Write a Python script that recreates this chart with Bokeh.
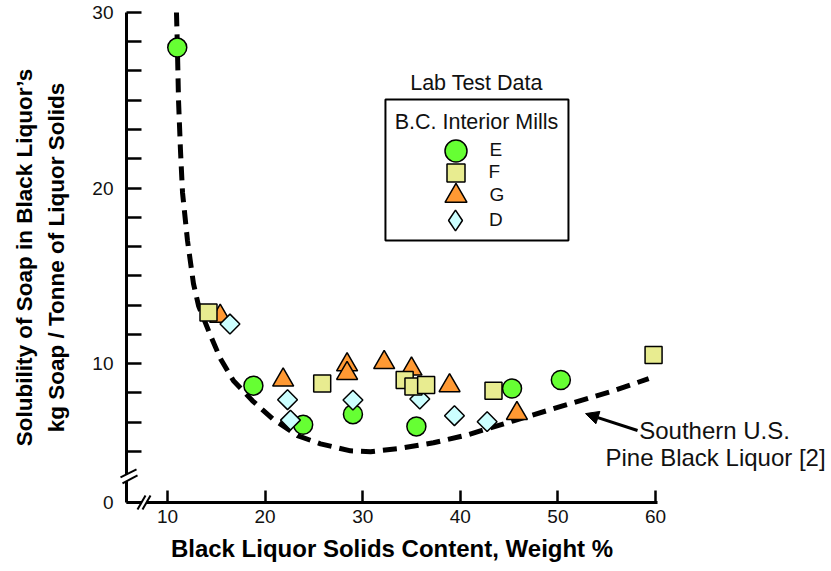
import numpy as np
from bokeh.plotting import figure
from bokeh.models import (Range1d, FixedTicker, CustomJSTickFormatter, Legend, LegendItem,
                          BoxAnnotation, Label, Arrow, NormalHead, PolyAnnotation)
from bokeh.embed import file_html
from bokeh.resources import INLINE

FONT = "Liberation Sans"

# Lab test data, B.C. interior mills: solids content (wt %) vs soap solubility (kg/t solids)
mill_e_solids = [11.0, 18.8, 23.9, 29.0, 35.5, 45.3, 50.3]
mill_e_soap = [28.0, 8.75, 6.52, 7.13, 6.43, 8.59, 9.07]

mill_f_solids = [14.2, 25.85, 34.3, 35.2, 36.5, 43.4, 59.8]
mill_f_soap = [12.92, 8.88, 9.07, 8.71, 8.79, 8.46, 10.5]

mill_g_solids = [15.4, 21.85, 28.4, 28.4, 32.2, 35.0, 38.9, 45.8]
mill_g_soap = [12.7, 9.07, 9.94, 9.45, 10.07, 9.7, 8.75, 7.17]

mill_d_solids = [16.4, 22.3, 22.6, 29.0, 35.85, 39.4, 42.75]
mill_d_soap = [12.26, 7.95, 6.79, 7.93, 7.99, 7.04, 6.70]

# Southern U.S. pine black liquor solubility curve [2]
pine_solids = [10.92, 11.02, 11.13, 11.33, 11.54, 12.05, 12.66, 13.18, 14.41, 15.43,
               16.76, 18.71, 20.76, 23.32, 25.68, 28.75, 30.8, 33.57, 37.25, 40.74,
               45.45, 50.57, 55.7, 59.3]
pine_soap = [30.0, 27.83, 24.98, 22.14, 19.74, 17.0, 14.56, 13.30, 11.60, 10.28,
             9.03, 7.89, 6.87, 5.90, 5.44, 5.04, 4.99, 5.16, 5.50, 5.95,
             6.75, 7.61, 8.46, 9.15]

x_ticks = [10, 20, 30, 40, 50, 60]
y_ticks = [2.1, 10, 20, 30]          # bottom tick stands for the broken-axis zero
y_minor = [5, 6.667, 8.333, 11.667, 13.333, 15, 16.667, 18.333,
           21.667, 23.333, 25, 26.667, 28.333]

# axes sit at solids = 5.8 and solubility = 2.1 (broken scales)
X_AXIS_AT = 2.1
Y_AXIS_AT = 5.8

p = figure(width=831, height=571,
           x_range=Range1d(-7.11, 78.03), y_range=Range1d(-1.83, 30.68),
           output_backend="svg", toolbar_location=None,
           min_border_left=0, min_border_right=0,
           min_border_top=0, min_border_bottom=0)
p.outline_line_color = None
p.grid.visible = False
p.background_fill_color = "white"
p.border_fill_color = "white"

# x axis
xa = p.xaxis[0]
xa.fixed_location = X_AXIS_AT
xa.bounds = (Y_AXIS_AT, 60.2)
xa.ticker = FixedTicker(ticks=x_ticks)
xa.axis_line_width = 3
xa.axis_line_color = "black"
xa.major_tick_in = 12
xa.major_tick_out = 0
xa.major_tick_line_width = 2.5
xa.major_tick_line_color = "black"
xa.minor_tick_line_color = None
xa.major_label_text_font = FONT
xa.major_label_text_font_size = "19px"
xa.major_label_text_color = "#111111"
xa.major_label_standoff = 8
xa.axis_label = "Black Liquor Solids Content, Weight %"
xa.axis_label_text_font = FONT
xa.axis_label_text_font_style = "bold"
xa.axis_label_text_font_size = "24px"
xa.axis_label_text_color = "black"
xa.axis_label_standoff = 8

# y axis
ya = p.yaxis[0]
ya.fixed_location = Y_AXIS_AT
ya.bounds = (X_AXIS_AT, 30)
ya.ticker = FixedTicker(ticks=y_ticks, minor_ticks=y_minor)
ya.formatter = CustomJSTickFormatter(code="return tick < 5 ? '0' : tick.toFixed(0);")
ya.axis_line_width = 3
ya.axis_line_color = "black"
ya.major_tick_in = 15
ya.major_tick_out = 0
ya.minor_tick_in = 15
ya.minor_tick_out = 0
ya.major_tick_line_width = 2.5
ya.minor_tick_line_width = 2.5
ya.major_tick_line_color = "black"
ya.minor_tick_line_color = "black"
ya.major_label_text_font = FONT
ya.major_label_text_font_size = "19px"
ya.major_label_text_color = "#111111"
ya.major_label_standoff = 13
ya.axis_label = "Solubility of Soap in Black Liquor\u2019s\nkg Soap / Tonne of Liquor Solids"
ya.axis_label_text_font = FONT
ya.axis_label_text_font_style = "bold"
ya.axis_label_text_font_size = "22.5px"
ya.axis_label_text_color = "black"
ya.axis_label_text_line_height = 1.3
ya.axis_label_standoff = 20

# reference curve
p.line(pine_solids, pine_soap, line_color="black", line_width=5, line_dash="14 8")

# mill data
r_e = p.scatter(mill_e_solids, mill_e_soap, marker="circle", size=19,
                fill_color="#66FF33", line_color="black", line_width=1.5)
r_g = p.scatter(mill_g_solids, mill_g_soap, marker="triangle", size=21,
                fill_color="#FF9933", line_color="black", line_width=1.5)
r_d = p.scatter(mill_d_solids, mill_d_soap, marker="square", size=14, angle=np.pi / 4,
                fill_color="#CCFFFF", line_color="black", line_width=1.5)
r_f = p.scatter(mill_f_solids, mill_f_soap, marker="square", size=17,
                fill_color="#E8EC90", line_color="black", line_width=1.5)
# legend key for mill D (legend keys are drawn unrotated)
r_d_key = p.scatter([np.nan], [np.nan], marker="diamond", size=14,
                    fill_color="#CCFFFF", line_color="black", line_width=1.5)

# legend box with heading and one row per mill
p.add_layout(BoxAnnotation(left=32.33, right=51.08, top=25.05, bottom=17.02,
                           fill_alpha=0, line_color="black", line_alpha=1, line_width=2))
p.add_layout(Label(x=41.66, y=26.01, text="Lab Test Data", text_align="center",
                   text_baseline="middle", text_font=FONT, text_font_size="21.5px",
                   text_color="#111111"))
p.add_layout(Label(x=41.66, y=23.74, text="B.C. Interior Mills", text_align="center",
                   text_baseline="middle", text_font=FONT, text_font_size="21.5px",
                   text_color="#111111"))

rows = [("E", r_e, 55, (427.5, 393.5), 7),
        ("F", r_f, 45, (432.5, 376.5), 11),
        ("G", r_g, 55, (427.5, 348.5), 7),
        ("D", r_d_key, 52, (429, 325), 8)]
for name, rend, box, loc, standoff in rows:
    p.add_layout(Legend(items=[LegendItem(label=name, renderers=[rend])],
                        location=loc, glyph_width=box, glyph_height=box,
                        label_standoff=standoff, padding=0, spacing=0, margin=0,
                        border_line_color=None, background_fill_alpha=0,
                        label_text_font=FONT, label_text_font_size="19px",
                        label_text_color="#111111"))

# curve annotation
p.add_layout(Arrow(end=NormalHead(size=13, fill_color="black", line_color="black"),
                   x_start=58.16, y_start=6.2, x_end=52.83, y_end=7.16,
                   line_width=3, line_color="black"))
p.add_layout(Label(x=66.05, y=6.2, text="Southern U.S.", text_align="center",
                   text_baseline="middle", text_font=FONT, text_font_size="24px",
                   text_color="#111111"))
p.add_layout(Label(x=66.15, y=4.66, text="Pine Black Liquor [2]", text_align="center",
                   text_baseline="middle", text_font=FONT, text_font_size="24px",
                   text_color="#111111"))

# axis break marks
p.add_layout(PolyAnnotation(xs=[5.185, 6.824, 6.927, 5.39], ys=[3.524, 3.98, 3.638, 3.182],
                            fill_color="white", fill_alpha=1, line_color=None))
for xs, ys in [((5.185, 6.824), (3.524, 3.98)), ((5.39, 6.927), (3.182, 3.638))]:
    p.add_layout(Arrow(end=None, x_start=xs[0], y_start=ys[0], x_end=xs[1], y_end=ys[1],
                       line_width=2, line_color="black"))
p.add_layout(PolyAnnotation(xs=[6.927, 7.746, 8.259, 7.439], ys=[1.702, 2.499, 2.499, 1.702],
                            fill_color="white", fill_alpha=1, line_color=None))
for xs, ys in [((6.927, 7.746), (1.702, 2.499)), ((7.439, 8.259), (1.702, 2.499))]:
    p.add_layout(Arrow(end=None, x_start=xs[0], y_start=ys[0], x_end=xs[1], y_end=ys[1],
                       line_width=2, line_color="black"))

open("out.html", "w").write(file_html(p, INLINE))
